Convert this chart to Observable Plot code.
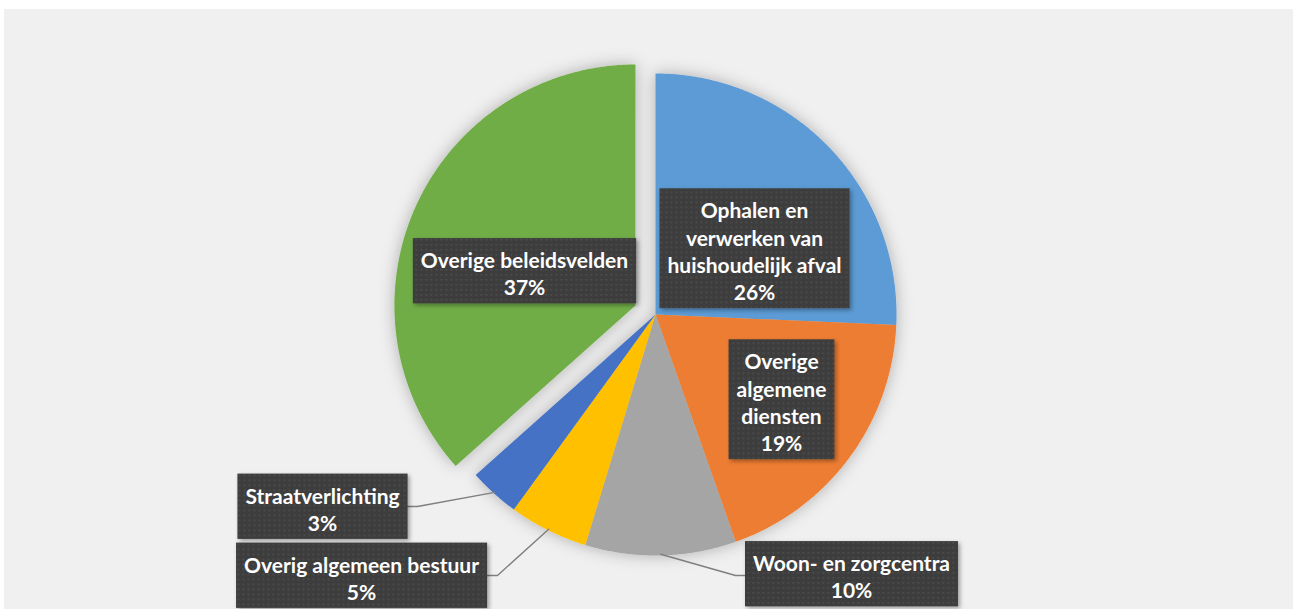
<!DOCTYPE html>
<html><head><meta charset="utf-8">
<script src="https://cdn.jsdelivr.net/npm/d3@7"></script>
<script src="https://cdn.jsdelivr.net/npm/@observablehq/plot@0.6"></script>
<style>
body{margin:0;background:#fff;}
#chart{position:absolute;left:4px;top:9px;width:1289px;height:600px;background:#f0f0f0;overflow:hidden}
</style></head><body><div id="chart"></div>
<script>
// ---- data ----
const categories = ["Ophalen en verwerken van huishoudelijk afval","Overige algemene diensten","Woon- en zorgcentra","Overig algemeen bestuur","Straatverlichting","Overige beleidsvelden"];
const labelLines = ["Ophalen en\nverwerken van\nhuishoudelijk afval","Overige\nalgemene\ndiensten","Woon- en zorgcentra","Overig algemeen bestuur","Straatverlichting","Overige beleidsvelden"];
const shares = [25.7, 18.9, 10.1, 5.3, 3.4, 36.6];
const colors = ["#5B9BD5","#ED7D31","#A5A5A5","#FFC000","#4472C4","#70AD47"];

// ---- layout ----
const W = 1289, H = 600, CX = 651, CY = 305, R = 241;
const explode = [0,0,0,0,0,22];
const labelCenter = [[750,241],[777,392],[847,566.5],[357,568],[318,499],[520,263.5]];
const leaderElbow = [null,null,[731,566],[493,566],[413,497],null];
const FONT = 21;

const total = d3.sum(shares);
const u = (px, py) => ({x: (px - CX) / R, y: (py - CY) / R});

const slicePts = [];
const leaderPts = [];
let cum = 0;
shares.forEach((v, i) => {
  const a0 = cum / total * 2 * Math.PI;
  const a1 = (cum + v) / total * 2 * Math.PI;
  cum += v;
  const am = (a0 + a1) / 2;
  const ox = Math.sin(am) * explode[i] / R, oy = -Math.cos(am) * explode[i] / R;
  slicePts.push({cat: categories[i], x: ox, y: oy});
  const n = Math.max(2, Math.ceil((a1 - a0) / 0.005));
  for (let k = 0; k <= n; k++) {
    const a = a0 + (a1 - a0) * k / n;
    slicePts.push({cat: categories[i], x: ox + Math.sin(a), y: oy - Math.cos(a)});
  }
  if (leaderElbow[i]) {
    leaderPts.push({cat: categories[i], x: Math.sin(am) * 0.995, y: -Math.cos(am) * 0.995});
    leaderPts.push({cat: categories[i], ...u(...leaderElbow[i])});
    leaderPts.push({cat: categories[i], ...u(labelCenter[i][0], leaderElbow[i][1])});
  }
});
const labels = shares.map((v, i) => ({t: labelLines[i] + "\n" + Math.round(v) + "%", ...u(...labelCenter[i])}));

const plot = Plot.plot({
  width: W, height: H, margin: 0,
  x: {domain: [-CX / R, (W - CX) / R], range: [0, W], axis: null},
  y: {domain: [-CY / R, (H - CY) / R], range: [0, H], axis: null},
  color: {domain: categories, range: colors},
  style: {background: "transparent", fontFamily: "Lato, 'Open Sans', sans-serif", overflow: "visible"},
  marks: [
    Plot.line(slicePts, {x: "x", y: "y", z: "cat", fill: "cat", stroke: "none", curve: "linear"}),
    Plot.line(leaderPts, {x: "x", y: "y", z: "cat", stroke: "#7F7F7F", strokeWidth: 1.4, curve: "linear"}),
    Plot.text(labels, {x: "x", y: "y", text: "t", fill: "white", fontSize: FONT, fontWeight: "bold", lineHeight: 1.3})
  ]
});
document.getElementById("chart").appendChild(plot);

// ---- decoration: shadows, label boxes ----
const NS = "http://www.w3.org/2000/svg";
const defs = document.createElementNS(NS, "defs");
defs.innerHTML = `
<filter id="pieShadow" x="-20%" y="-20%" width="140%" height="140%">
  <feDropShadow dx="0" dy="0" stdDeviation="8" flood-color="#000" flood-opacity="0.28"/>
</filter>
<filter id="boxShadow" x="-10%" y="-10%" width="130%" height="130%">
  <feDropShadow dx="2" dy="2" stdDeviation="2" flood-color="#000" flood-opacity="0.35"/>
</filter>
<pattern id="dots" width="5" height="5" patternUnits="userSpaceOnUse">
  <rect width="5" height="5" fill="#3d3d3d"/>
  <rect x="1" y="1" width="1.6" height="1.6" fill="#4f4f4f"/>
</pattern>`;
plot.insertBefore(defs, plot.firstChild);
const lineGroups = plot.querySelectorAll('g[aria-label="line"]');
if (lineGroups[0]) lineGroups[0].setAttribute("filter", "url(#pieShadow)");
const textGroup = plot.querySelector('g[aria-label="text"]');
if (textGroup) {
  textGroup.querySelectorAll("text").forEach(t => {
    const b = t.getBBox();
    const r = document.createElementNS(NS, "rect");
    r.setAttribute("x", b.x - 8);
    r.setAttribute("y", b.y - 9);
    r.setAttribute("width", b.width + 16);
    r.setAttribute("height", b.height + 13);
    r.setAttribute("fill", "url(#dots)");
    r.setAttribute("stroke", "none");
    r.setAttribute("filter", "url(#boxShadow)");
    const tr = t.getAttribute("transform");
    if (tr) r.setAttribute("transform", tr);
    textGroup.insertBefore(r, t);
  });
}
</script></body></html>
